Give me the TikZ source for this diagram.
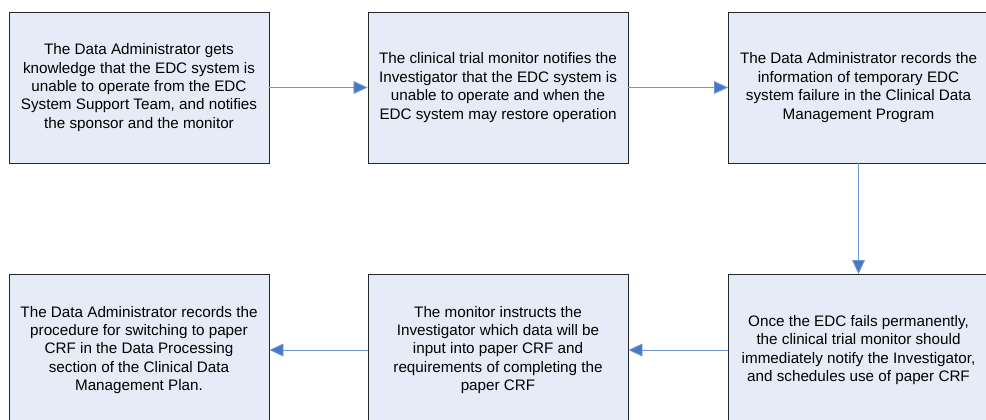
\documentclass[tikz,border=0pt]{standalone}
\usepackage{fontspec}
\setmainfont{Liberation Sans}
\usepackage{tikz}
\usetikzlibrary{arrows.meta}

\definecolor{boxfill}{RGB}{230,236,247}
\definecolor{arrowline}{RGB}{110,150,210}
\definecolor{arrowhead}{RGB}{70,120,195}

\begin{document}
\begin{tikzpicture}[x=0.03cm,y=-0.03cm,
    stepbox/.style={shape=rectangle,draw=black!85,line width=0.7pt,fill=boxfill,
        minimum width=7.8cm,minimum height=4.53cm,align=center,
        font=\fontsize{13}{15.7}\selectfont,inner sep=0pt},
    flow/.style={draw=arrowline,line width=0.8pt,
        -{Triangle[length=12pt,width=11pt,fill=arrowhead]}}]
    \useasboundingbox (0,0) rectangle (986,419);
    \clip (0,0) rectangle (986,419);

    \node[stepbox] (A) at (139,87.5) {The Data Administrator gets\\knowledge that the EDC system is\\unable to operate from the EDC\\System Support Team, and notifies\\the sponsor and the monitor};
    \node[stepbox] (B) at (498,87.5) {The clinical trial monitor notifies the\\Investigator that the EDC system is\\unable to operate and when the\\EDC system may restore operation};
    \node[stepbox] (C) at (858.5,87.5) {The Data Administrator records the\\information of temporary EDC\\system failure in the Clinical Data\\Management Program};
    \node[stepbox] (D) at (858.5,350) {Once the EDC fails permanently,\\the clinical trial monitor should\\immediately notify the Investigator,\\and schedules use of paper CRF};
    \node[stepbox] (E) at (498,350) {The monitor instructs the\\Investigator which data will be\\input into paper CRF and\\requirements of completing the\\paper CRF};
    \node[stepbox] (F) at (139,350) {The Data Administrator records the\\procedure for switching to paper\\CRF in the Data Processing\\section of the Clinical Data\\Management Plan.};

    \draw[flow] (A) to (B);
    \draw[flow] (B) to (C);
    \draw[flow] (C) to (D);
    \draw[flow] (D) to (E);
    \draw[flow] (E) to (F);
\end{tikzpicture}
\end{document}
